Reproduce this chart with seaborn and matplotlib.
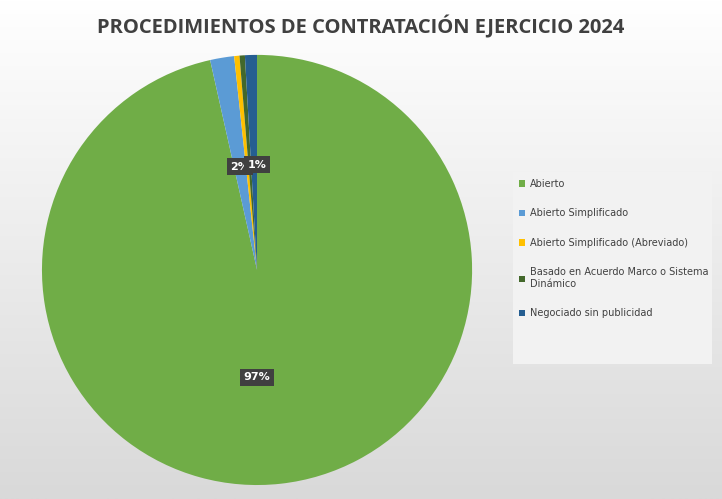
import matplotlib.pyplot as plt
import seaborn as sns
import numpy as np

categories = ['Abierto', 'Abierto Simplificado', 'Abierto Simplificado (Abreviado)',
              'Basado en Acuerdo Marco o Sistema\nDinámico', 'Negociado sin publicidad']
values = [96.5, 1.8, 0.4, 0.4, 0.9]
colors = ['#70ad47', '#5b9bd5', '#ffc000', '#43682b', '#255e91']

sns.set_theme(style='white')
fig = plt.figure(figsize=(7.22, 4.99), dpi=100)
# gray gradient background
bg = fig.add_axes([0, 0, 1, 1])
grad = np.linspace(0, 1, 256).reshape(-1, 1)
bg.imshow(grad, aspect='auto', cmap=plt.matplotlib.colors.LinearSegmentedColormap.from_list('g', ['#d9d9d9', '#ffffff']),
          extent=[0, 1, 0, 1], origin='lower')
bg.axis('off')

ax = fig.add_axes([0.058, 0.028, 0.596, 0.862])
ax.set_facecolor('none')
wedges, _ = ax.pie(values, colors=colors, startangle=90, counterclock=False,
                   wedgeprops=dict(linewidth=0))
ax.set_xlim(-1, 1); ax.set_ylim(-1, 1)
ax.set_aspect('equal')

box = dict(boxstyle='square,pad=0.3', fc='#404040', ec='none')
ax.text(0.0, -0.5, '97%', color='white', fontsize=8, fontweight='bold', ha='center', va='center', bbox=box)
ax.text(-0.08, 0.48, '2%', color='white', fontsize=8, fontweight='bold', ha='center', va='center', bbox=box)
ax.text(0.0, 0.49, '1%', color='white', fontsize=8, fontweight='bold', ha='center', va='center', bbox=box)

fig.text(0.5, 0.945, 'PROCEDIMIENTOS DE CONTRATACIÓN EJERCICIO 2024', ha='center', va='center',
         fontsize=14.5, fontweight='bold', color='#404040', family='Open Sans')

lax = fig.add_axes([0.71, 0.27, 0.276, 0.385])
lax.set_facecolor('#f2f2f2')
lax.set_xticks([]); lax.set_yticks([])
for s in lax.spines.values():
    s.set_visible(False)
lax.legend(wedges, categories, loc='upper left', frameon=False, fontsize=7,
           handlelength=0.6, handleheight=0.6, labelspacing=2.0, labelcolor='#404040',
           borderaxespad=0.3, handletextpad=0.5)
fig.savefig('out.png', dpi=100)
